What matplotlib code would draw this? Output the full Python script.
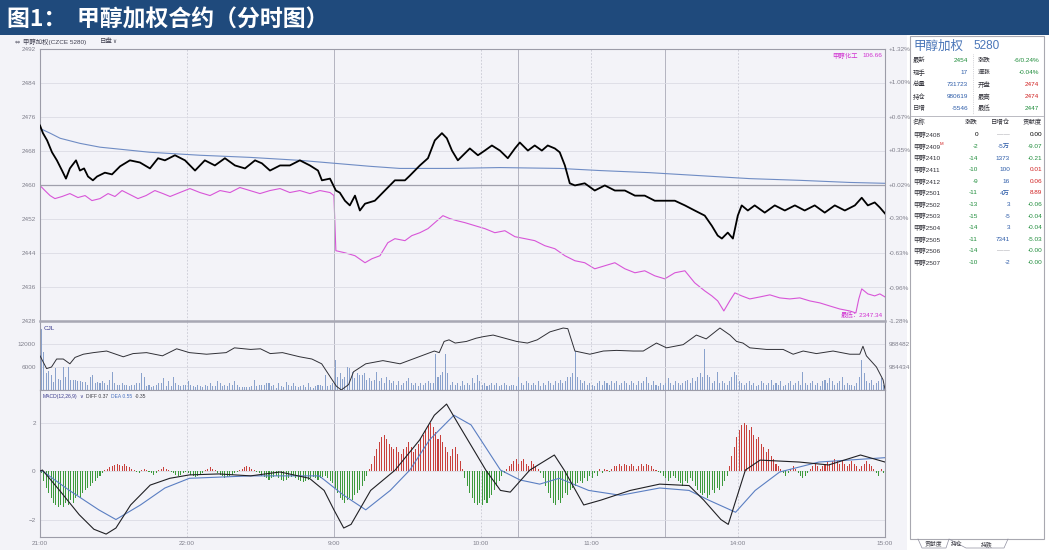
import matplotlib.pyplot as plt
import numpy as np

plt.rcParams['font.family'] = ['Liberation Sans', 'Noto Sans CJK SC', 'DejaVu Sans']

W, H = 1049, 552
BG = '#F3F3F8'
GRID = '#DCDCE4'
AXC = '#9C9CA8'
TXT = '#80808C'
GREEN = '#1E8C3A'
RED = '#D02020'
BLUE = '#2C5BA8'

# time axis: trading minutes since 21:00
tick_min = [0, 60, 120, 180, 225, 285, 345]
tick_lab = ['21:00', '22:00', '9:00', '10:00', '11:00', '14:00', '15:00']
dash_min = [60, 180, 225, 285]
solid_min = [120, 195, 255]

price_ticks = [2492, 2484, 2476, 2468, 2460, 2452, 2444, 2436, 2428]
pct_ticks = [1.32, 1.00, 0.67, 0.35, 0.02, -0.30, -0.63, -0.96, -1.28]
pct_labels = ['+1.32%', '+1.00%', '+0.67%', '+0.35%', '+0.02%', '-0.30%', '-0.63%', '-0.96%', '-1.28%']

price_t = [0, 1.2, 2.9, 4.9, 6.9, 9.0, 10.6, 12.2, 13.1, 14.7, 16.3, 18.0, 19.6, 21.6, 23.3, 26.5, 29.4, 32.7,
           36.7, 40.8, 44.9, 48.2, 51.0, 55.1, 59.2, 63.3, 67.3, 71.4, 75.5, 79.6, 83.7, 87.8, 90.6, 93.9, 98.0,
           102.0, 106.1, 110.2, 113.5, 115.1, 118.4, 120.8, 122.4, 124.5, 126.5, 128.6, 130.6, 132.7, 136.7,
           140.8, 144.9, 149.0, 151.0, 155.1, 158.4, 161.2, 164.1, 166.1, 168.2, 170.6, 172.7, 175.5, 178.8,
           181.6, 184.5, 187.8, 191.0, 193.9, 195.9, 199.2, 202.0, 204.9, 207.3, 210.2, 212.2, 214.3, 216.3,
           218.4, 222.4, 226.5, 230.6, 234.7, 238.8, 242.9, 246.9, 251.0, 255.1, 259.2, 263.3, 267.3, 271.4,
           274.3, 276.7, 278.4, 280.8, 282.9, 284.9, 286.5, 289.0, 291.8, 295.9, 300.0, 304.1, 308.2, 312.2,
           316.3, 320.4, 324.5, 328.6, 332.7, 335.5, 338.0, 340.8, 342.9, 345.0]
price_v = [2474.0, 2472.2, 2470.5, 2467.7, 2465.8, 2463.4, 2461.5, 2463.9, 2464.6, 2465.8, 2463.4, 2463.9,
           2462.0, 2461.1, 2462.0, 2462.9, 2462.5, 2464.4, 2465.8, 2465.3, 2463.9, 2466.3, 2465.8, 2467.0,
           2465.8, 2463.4, 2465.8, 2464.6, 2466.3, 2464.6, 2463.9, 2465.8, 2465.1, 2463.4, 2464.6, 2464.6,
           2465.8, 2464.6, 2463.4, 2461.1, 2461.5, 2458.7, 2458.2, 2456.3, 2455.2, 2457.5, 2454.0, 2455.6,
           2456.3, 2458.7, 2461.1, 2461.1, 2462.2, 2464.6, 2466.3, 2470.5, 2472.2, 2471.0, 2468.1, 2465.8,
           2467.0, 2468.6, 2467.0, 2468.1, 2469.3, 2468.1, 2466.3, 2468.6, 2470.0, 2468.1, 2469.3, 2468.1,
           2469.3, 2468.6, 2467.7, 2464.6, 2460.4, 2459.9, 2460.4, 2458.7, 2459.9, 2458.7, 2458.7, 2457.5,
           2457.5, 2456.3, 2456.3, 2456.3, 2455.2, 2454.0, 2452.8, 2450.4, 2448.1, 2447.4, 2448.8, 2447.4,
           2452.8, 2455.2, 2454.0, 2455.2, 2453.5, 2455.2, 2454.0, 2455.2, 2454.0, 2455.2, 2453.5, 2455.2,
           2454.0, 2455.2, 2457.0, 2455.2, 2455.9, 2454.7, 2453.3]

avg_t = [0, 4.1, 8.2, 16.3, 24.5, 44.9, 65.3, 85.7, 106.1, 120.4, 134.7, 146.9, 167.3, 187.8, 212.2, 228.6,
         249.0, 269.4, 289.8, 310.2, 330.6, 345.0]
avg_v = [2473.3, 2472.2, 2471.0, 2469.8, 2468.9, 2467.7, 2467.0, 2466.5, 2465.8, 2465.1, 2464.4, 2463.9,
         2463.9, 2464.1, 2463.9, 2463.4, 2462.9, 2462.2, 2461.5, 2461.1, 2460.6, 2460.4]

chem_t = [0, 2.0, 4.1, 6.1, 9.0, 12.2, 15.5, 18.4, 21.2, 24.5, 27.8, 30.6, 33.5, 36.7, 40.0, 43.3, 46.9, 50.2,
          53.1, 57.1, 61.2, 65.3, 69.4, 73.5, 77.6, 81.6, 85.7, 89.8, 93.9, 98.0, 102.0, 106.1, 110.2, 114.3,
          118.4, 120.0, 120.8, 124.5, 128.6, 132.7, 135.5, 138.8, 142.0, 144.9, 149.0, 151.8, 155.1, 158.4,
          161.2, 164.5, 167.3, 170.2, 173.5, 177.6, 181.6, 185.7, 189.8, 193.9, 198.0, 202.0, 206.1, 210.2,
          214.3, 218.4, 222.4, 226.5, 230.6, 234.7, 238.8, 242.9, 246.9, 251.0, 255.1, 259.2, 263.3, 267.3,
          271.4, 274.3, 276.7, 279.2, 281.6, 283.7, 286.5, 289.8, 293.9, 298.0, 302.0, 306.1, 310.2, 314.3,
          318.4, 322.4, 326.5, 330.6, 333.1, 334.3, 335.5, 338.0, 340.8, 342.9, 345.0]
chem_pct = [0.015, -0.033, -0.081, -0.110, -0.090, -0.062, -0.100, -0.081, -0.129, -0.110, -0.062, -0.090,
            -0.033, -0.071, -0.110, -0.081, -0.033, -0.062, -0.090, -0.052, -0.014, -0.052, -0.081, -0.033,
            -0.052, -0.004, -0.033, -0.062, -0.033, -0.014, -0.052, -0.033, -0.062, -0.033, -0.052, -0.081,
            -0.608, -0.628, -0.656, -0.723, -0.685, -0.656, -0.532, -0.493, -0.512, -0.464, -0.436, -0.397,
            -0.340, -0.273, -0.301, -0.321, -0.340, -0.369, -0.397, -0.436, -0.417, -0.474, -0.493, -0.512,
            -0.560, -0.589, -0.656, -0.704, -0.723, -0.781, -0.752, -0.723, -0.781, -0.819, -0.800, -0.848,
            -0.877, -0.819, -0.800, -0.915, -0.992, -1.040, -1.088, -1.184, -1.088, -1.011, -1.040, -1.069,
            -1.050, -1.030, -1.059, -1.069, -1.059, -1.088, -1.107, -1.136, -1.165, -1.184, -1.203, -1.069,
            -0.973, -1.021, -1.040, -1.021, -1.050]

vol = [15800, 10000, 4400, 5000, 4000, 2000, 5700, 2900, 2700, 5900,
       3500, 5900, 2500, 2700, 2500, 2300, 2300, 2200, 2000, 1400,
       3300, 4000, 1900, 2000, 1900, 2300, 1900, 1400, 2700, 4600,
       1900, 1400, 1400, 1900, 1300, 1400, 1000, 1200, 1400, 1900,
       1900, 4400, 3300, 1000, 1400, 850, 1000, 1200, 1900, 1900,
       3100, 1000, 2300, 1000, 3500, 1900, 1200, 1000, 1400, 1400,
       2300, 1200, 1000, 850, 1200, 1000, 850, 1200, 1000, 1900,
       1000, 1000, 2300, 1900, 1000, 1400, 1000, 1900, 1400, 2300,
       1400, 850, 700, 700, 850, 750, 1000, 2700, 1000, 1200,
       1400, 1400, 1900, 1900, 1000, 1200, 600, 1900, 1000, 850,
       2000, 1400, 1000, 1900, 1000, 850, 1000, 1400, 850, 1900,
       750, 600, 1000, 1400, 1400, 1000, 4000, 1000, 1400, 1900,
       7900, 3500, 4400, 2900, 3500, 6100, 5700, 4800, 3100, 4400,
       4000, 4000, 4400, 2700, 3100, 2300, 2700, 4600, 2300, 3100,
       1900, 3300, 2700, 1900, 2300, 1400, 2300, 1400, 1900, 2300,
       3100, 1900, 1400, 1900, 1000, 1900, 1400, 1900, 2300, 1900,
       1900, 9500, 3500, 4000, 4800, 9500, 4400, 1400, 2000, 1200,
       1900, 1000, 2300, 1200, 1900, 1400, 3100, 1900, 4000, 2300,
       1400, 1900, 1000, 1400, 1900, 1200, 1900, 1000, 1400, 1900,
       1400, 1000, 1200, 1400, 1000, 3500, 1900, 1400, 2300, 1900,
       1200, 1900, 1400, 2300, 1000, 1900, 1400, 2300, 1900, 1400,
       2300, 1900, 2700, 1900, 2300, 3300, 3500, 4400, 10300, 3500,
       2700, 1900, 2300, 1400, 1900, 1400, 1000, 1900, 2300, 1400,
       2300, 1900, 1400, 2300, 1900, 2300, 1400, 1900, 2300, 1900,
       1400, 2300, 1900, 1400, 2300, 1900, 2300, 3300, 1900, 1400,
       2300, 1400, 1000, 1900, 1400, 1900, 3100, 1900, 1400, 2300,
       1900, 1400, 1900, 2300, 2700, 1900, 3100, 2300, 3500, 4400,
       3300, 10700, 4000, 3500, 1900, 2300, 4800, 1900, 2300, 1900,
       1400, 2300, 3300, 4800, 4000, 2300, 1900, 1400, 1900, 2300,
       1400, 1900, 1000, 1400, 2300, 1900, 1400, 1900, 2700, 1400,
       1900, 1400, 2300, 1000, 1400, 1900, 2300, 1400, 1900, 2300,
       1400, 4600, 1900, 1400, 1900, 2300, 1400, 1900, 1000, 2300,
       2700, 1900, 3100, 2300, 1400, 1900, 2300, 3300, 1400, 1900,
       1400, 1400, 1000, 1900, 3500, 7800, 4400, 2300, 1900, 2700,
       1400, 1900, 2300, 3100, 1400]

oi_t = [0, 2.7, 4.7, 6.8, 9.5, 12.2, 14.3, 17.7, 21.8, 27.2, 34, 38, 43.5, 50, 55.8, 61, 68, 76, 79.4, 86, 90,
        94, 99, 106, 111, 115, 118, 121, 123, 126, 128, 131, 133, 140, 147, 154, 161, 163, 165, 167, 169.5,
        174.1, 178, 181, 185, 194.6, 199, 203, 208.2, 213.6, 215.5, 218.4, 224.5, 230, 235.4, 242.2, 246.3,
        251.7, 255.8, 262.6, 268, 272, 277.6, 281.7, 284.4, 287, 289.8, 296.6, 303.4, 307.5, 311.6, 317,
        323.8, 330.6, 334.7, 336, 337.4, 341.5, 344.2, 345]
oi_v = [986402, 984153, 984434, 985840, 985840, 984996, 986121, 986683, 986964, 987245, 986233, 986795,
        986964, 986402, 987639, 986964, 986683, 986964, 987807, 987526, 987639, 986795, 986964, 986233,
        985840, 984996, 983029, 981061, 980387, 981342, 983591, 984434, 984996, 985558, 984996, 986121,
        987245, 986964, 988932, 989213, 988650, 988932, 989494, 989775, 990056, 988932, 988650, 989213,
        990618, 991293, 991180, 987245, 986683, 987245, 987357, 987245, 987245, 988650, 987807, 988369,
        990056, 989381, 991293, 990056, 988932, 988650, 987807, 987526, 987526, 986683, 987245, 986795,
        987245, 986683, 986683, 988088, 986402, 984434, 982186, 980499]

hist = [-0.1, -0.4, -0.7, -0.9, -1.1, -1.3, -1.4, -1.5, -1.4, -1.5, -1.3, -1.4, -1.2, -1.3, -1.1, -1.0, -1.1,
        -0.9, -0.8, -0.7, -0.6, -0.5, -0.4, -0.3, -0.2,
        -0.1, 0.05, 0.1, 0.15, 0.2, 0.25, 0.3, 0.25, 0.2, 0.3, 0.2, 0.15, 0.1, 0.05, -0.05, -0.1, 0.05, 0.1,
        0.05, -0.05, -0.1, -0.15, -0.1, 0.05, 0.1, 0.15, 0.1, 0.05, -0.05, -0.1, -0.15, -0.2, -0.15, -0.1, -0.05,
        -0.1, -0.15, -0.2, -0.25, -0.2, -0.15, -0.1, 0.05, 0.1, 0.15, 0.1, 0.05, -0.1, -0.15, -0.2, -0.3,
        -0.25, -0.2, -0.15, -0.1, -0.05, 0.05, 0.1, 0.15, 0.2, 0.15, 0.1, 0.05, -0.05, -0.1, -0.2, -0.25,
        -0.3, -0.35, -0.3, -0.25, -0.2, -0.3, -0.35, -0.4, -0.35, -0.3, -0.25, -0.2, -0.3, -0.35, -0.4, -0.45,
        -0.4, -0.35, -0.3, -0.25, -0.3, -0.35, -0.3, -0.25, -0.2, -0.3, -0.4, -0.5,
        -0.7, -0.9, -1.1, -1.2, -1.3, -1.2, -1.1, -1.2, -1.0, -0.9, -0.8, -0.6, -0.4, -0.2, 0.1,
        0.3, 0.6, 0.9, 1.2, 1.4, 1.5, 1.3, 1.1, 1.0, 0.9, 1.0, 0.8, 0.7, 0.9, 1.0, 1.2, 1.0, 0.8, 0.9, 1.1,
        1.3, 1.5, 1.7, 1.9, 2.0, 1.8, 1.6, 1.3, 1.5, 1.2,
        1.0, 0.8, 0.6, 0.9, 1.0, 0.7, 0.4, 0.1, -0.3, -0.6, -0.9, -1.1, -1.3, -1.4, -1.3, -1.4, -1.2, -1.3,
        -1.1, -1.0, -0.8, -0.6, -0.4, -0.2, -0.1,
        0.1, 0.2, 0.3, 0.4, 0.5, 0.3, 0.4, 0.5, 0.3, 0.2, 0.4, 0.3, 0.2, 0.1, -0.1,
        -0.3, -0.6, -0.9, -1.1, -1.3, -1.4, -1.2, -1.3, -1.1, -0.9, -1.0, -0.8, -0.7, -0.6, -0.5,
        -0.4, -0.5, -0.3, -0.4, -0.2, -0.3, -0.1, -0.2, 0.1, -0.1, 0.1, 0.05, -0.05, 0.1, 0.2,
        0.2, 0.3, 0.2, 0.3, 0.25, 0.2, 0.3, 0.2, 0.1, 0.2, 0.3, 0.2, 0.3, 0.25, 0.2, 0.1, 0.05, -0.05, -0.1, -0.2,
        -0.3, -0.4, -0.3, -0.2, -0.3, -0.4, -0.5, -0.6, -0.4, -0.5, -0.3, -0.4, -0.6, -0.8, -0.9,
        -1.0, -0.9, -1.1, -1.0, -0.8, -0.9, -0.7, -0.8, -0.6, -0.4, -0.2, 0.2, 0.6,
        1.0, 1.4, 1.7, 1.9, 2.0, 1.9, 1.7, 1.8, 1.5, 1.3, 1.4, 1.1, 1.0, 0.8, 0.9, 0.6, 0.5,
        0.3, 0.2, 0.1, -0.1, -0.2, -0.1, 0.1, 0.2, 0.1, -0.1, -0.2, -0.3, -0.2, -0.1, 0.1, 0.2, 0.3, 0.2, 0.1, 0.2,
        0.3, 0.4, 0.3, 0.4, 0.5, 0.4, 0.3, 0.4, 0.3, 0.2, 0.3, 0.4, 0.3, 0.2, 0.1, 0.2, 0.3, 0.4, 0.3, 0.2,
        0.1, -0.1, -0.2, 0.1, -0.1]

diff_t = [0, 1, 8, 16, 22, 27, 31, 37, 45, 53, 61, 73, 86, 98, 110, 116, 120, 124, 127, 135, 145, 155, 161,
          166, 171, 182, 188, 192, 200, 210, 214, 222, 229, 241, 253, 265, 271, 278, 281, 288, 294, 310, 322,
          335, 345]
diff_v = [0.0, 0.04, -0.8, -1.8, -2.4, -2.6, -2.35, -1.4, -0.58, -0.3, -0.16, -0.12, -0.2, -0.04, -0.3, -0.8,
          -1.6, -2.35, -2.2, -0.8, 0.04, 1.28, 2.3, 2.76, 1.9, 0.04, -0.8, -0.87, 0.04, 0.66, 0.04, -1.4, -1.2,
          -0.8, -0.54, -0.6, -1.2, -2.0, -2.2, 0.04, 0.45, 0.37, 0.25, 0.66, 0.37]
dea_t = [0, 1, 12, 24, 31, 41, 51, 61, 86, 114, 124, 133, 143, 151, 159, 169, 176, 188, 196, 204, 212, 224,
         237, 253, 265, 273, 284, 292, 302, 318, 345]
dea_v = [0.0, 0.0, -0.8, -1.6, -2.0, -1.4, -0.7, -0.3, -0.2, -0.2, -1.0, -1.6, -0.8, 0.04, 1.28, 2.3, 1.9,
         0.04, -0.37, -0.54, -0.3, -0.8, -1.0, -0.7, -0.8, -1.2, -1.7, -0.8, -0.04, 0.37, 0.55]

# ---------------------------------------------------------------
fig = plt.figure(figsize=(W / 100, H / 100), dpi=100, facecolor='white')


def fx(x):
    return x / W


def fy(y):
    return 1 - y / H


def T(x, y, s, **kw):
    kw.setdefault('fontsize', 4.6)
    kw.setdefault('va', 'center')
    fig.text(fx(x), fy(y), s, **kw)


# backgrounds
fig.patches.append(plt.Rectangle((0, fy(550)), fx(907), fy(35) - fy(550), transform=fig.transFigure,
                                 facecolor=BG, edgecolor='none', zorder=-10))
fig.patches.append(plt.Rectangle((0, fy(35)), 1, 35 / H, transform=fig.transFigure,
                                 facecolor='#1F4A7C', edgecolor='none', zorder=-10))
fig.patches.append(plt.Rectangle((fx(910), fy(539)), fx(1044 - 910), (539 - 36) / H, transform=fig.transFigure,
                                 facecolor='white', edgecolor='#A8A8B0', lw=0.8, zorder=-9))
fig.text(fx(7), fy(20), '图1：  甲醇加权合约（分时图）', color='white', fontsize=16.5,
         fontweight='bold', family=['Noto Sans CJK SC'], va='center')

T(15, 41.5, '⇔', color='#505060', fontsize=4.5, family=['DejaVu Sans'])
T(23, 41.5, '甲醇加权(CZCE 5280)', color='#404050')
T(100, 41.5, '日盘', color='#404050')
T(112, 41.5, '∨', color='#404050', fontsize=4, family=['DejaVu Sans'])

L, R = 40, 885
ax = fig.add_axes([fx(L), fy(321), fx(R - L), (321 - 49) / H])
axv = fig.add_axes([fx(L), fy(390), fx(R - L), (390 - 321) / H])
axm = fig.add_axes([fx(L), fy(537), fx(R - L), (537 - 390) / H])

for a in (ax, axv, axm):
    a.set_facecolor(BG)
    a.set_xlim(0, 345)
    a.set_xticks(tick_min)
    a.tick_params(length=0, labelsize=4.6, labelcolor=TXT, pad=3)
    for s in a.spines.values():
        s.set_color(AXC)
        s.set_linewidth(0.8)
    for m in dash_min:
        a.axvline(m, color='#C8C8D2', lw=0.6, ls=(0, (2, 2)), zorder=1)
    for m in solid_min:
        a.axvline(m, color='#B4B4C0', lw=0.7, zorder=1)
ax.set_xticklabels([])
axv.set_xticklabels([])
axm.set_xticklabels(tick_lab)
ax.spines['bottom'].set_linewidth(1.8)
ax.spines['bottom'].set_color('#A8A8B4')

# main price panel
ax.set_ylim(2428, 2492)
ax.set_yticks(price_ticks)
for p in price_ticks[1:-1]:
    ax.axhline(p, color=GRID, lw=0.6, zorder=1)
ax.axhline(2460, color='#A0A0AC', lw=0.9, zorder=1)
axp = ax.twinx()
axp.set_ylim(-1.28, 1.32)
axp.set_yticks(pct_ticks)
axp.set_yticklabels(pct_labels)
axp.tick_params(length=0, labelsize=4.6, labelcolor=TXT, pad=3)
axp.set_facecolor(BG)
for s in axp.spines.values():
    s.set_visible(False)
ax.set_zorder(3)
axp.set_zorder(2)
ax.patch.set_visible(False)
axp.plot(chem_t, chem_pct, color='#D855D8', lw=0.8)
ax.plot(avg_t, avg_v, color='#6F8CC4', lw=0.8, zorder=4)
ax.plot(price_t, price_v, color='black', lw=1.3, zorder=5)
ax.text(0.937, 0.985, '甲醇化工', transform=ax.transAxes, color='#D030D0', fontsize=4.6, va='top', ha='left')
ax.text(0.997, 0.985, '106.66', transform=ax.transAxes, color='#D030D0', fontsize=4.6, va='top', ha='right')
ax.text(0.997, 0.012, '最低：2347.34', transform=ax.transAxes, color='#D030D0', fontsize=4.6,
        va='bottom', ha='right')

# volume / open interest panel
axv.set_ylim(0, 18000)
axv.set_yticks([12000, 6000])
for v in (12000, 6000):
    axv.axhline(v, color=GRID, lw=0.6, zorder=1)
axv.bar(np.arange(len(vol)) + 0.5, vol, width=0.42, color='#8AA2CC', zorder=2)
axo = axv.twinx()
axo.set_ylim(980386, 992530)
axo.set_yticks([988482, 984434])
axo.set_yticklabels(['988482', '984434'])
axo.tick_params(length=0, labelsize=4.6, labelcolor=TXT, pad=3)
for s in axo.spines.values():
    s.set_visible(False)
axo.plot(oi_t, oi_v, color='#303036', lw=0.7)
axv.text(0.004, 0.93, 'CJL', transform=axv.transAxes, color='#3A3A8C', fontsize=4.6, va='top')

# MACD panel
axm.set_ylim(-2.72, 3.34)
axm.set_yticks([2, 0, -2])
for v in (2, 0, -2):
    axm.axhline(v, color=GRID, lw=0.6, zorder=1)
hx = np.arange(len(hist)) + 0.5
hv = np.array(hist)
axm.bar(hx, hv, width=0.42, color=np.where(hv >= 0, '#C8403C', '#3C9A3C'), zorder=2)
axm.plot(dea_t, dea_v, color='#5A7EC2', lw=0.8, zorder=3)
axm.plot(diff_t, diff_v, color='#202024', lw=0.8, zorder=4)


def mlabel(x, s, c, **kw):
    axm.text((x - L) / (R - L), 0.955, s, transform=axm.transAxes, color=c, fontsize=3.6, va='center', **kw)


mlabel(43, 'MACD(12,26,9)', '#3A3A8C')
mlabel(79, '∨', '#3A3A8C', family=['DejaVu Sans'])
mlabel(86, 'DIFF 0.37', '#404048')
mlabel(111, 'DEA 0.55', '#4A72C0')
mlabel(135, '-0.35', '#404048')

# right quote panel
T(913, 46, '甲醇加权', color='#4A76B8', fontsize=9, family=['Noto Sans CJK SC'])
T(973, 46, '5280', color='#4A76B8', fontsize=8.5)

stat_lab_l = ['最新', '现手', '总量', '持仓', '日增']
stat_val_l = ['2454', '17', '731723', '980619', '-5546']
stat_col_l = [GREEN, BLUE, BLUE, BLUE, BLUE]
stat_lab_r = ['涨跌', '速涨', '开盘', '最高', '最低']
stat_val_r = ['-6/0.24%', '-0.04%', '2474', '2474', '2447']
stat_col_r = [GREEN, GREEN, RED, RED, GREEN]
stat_y = [60, 72.5, 84.5, 96.5, 108]
for i, y in enumerate(stat_y):
    T(913, y, stat_lab_l[i], color='#303038')
    T(968, y, stat_val_l[i], color=stat_col_l[i], ha='right')
    T(978, y, stat_lab_r[i], color='#303038')
    T(1039, y, stat_val_r[i], color=stat_col_r[i], ha='right')
fig.add_artist(plt.Line2D([fx(973), fx(973)], [fy(54), fy(114)], color='#B0B0B8', lw=0.5, ls=':'))
fig.add_artist(plt.Line2D([fx(911), fx(1043)], [fy(116), fy(116)], color='#B0B0B8', lw=0.6))

tbl_head = ['名称', '涨跌', '日增仓', '贡献度']
names = ['甲醇2408', '甲醇2409', '甲醇2410', '甲醇2411', '甲醇2412', '甲醇2501', '甲醇2502', '甲醇2503',
         '甲醇2504', '甲醇2505', '甲醇2506', '甲醇2507']
chg = ['0', '-2', '-14', '-10', '-9', '-11', '-13', '-15', '-14', '-11', '-14', '-10']
oi_chg = ['——', '-5万', '1373', '100', '16', '4万', '3', '-5', '3', '7341', '——', '-2']
contrib = ['0.00', '-9.07', '-0.21', '0.01', '0.06', '8.89', '-0.06', '-0.04', '-0.04', '-5.03', '-0.00', '-0.00']

T(913, 122, tbl_head[0], color='#303038')
T(978, 122, tbl_head[1], color='#303038', ha='right')
T(1010, 122, tbl_head[2], color='#303038', ha='right')
T(1042, 122, tbl_head[3], color='#303038', ha='right')
for i in range(len(names)):
    y = 135 + i * 11.6
    T(913, y, names[i], color='#303038')
    if i == 1:
        T(940, y - 2.5, 'M', color=RED, fontsize=3.2)
    c1 = 'black' if chg[i] == '0' else GREEN
    T(978, y, chg[i], color=c1, ha='right')
    c2 = '#909098' if oi_chg[i] == '——' else BLUE
    T(1010, y, oi_chg[i], color=c2, ha='right')
    v = float(contrib[i])
    c3 = 'black' if contrib[i] == '0.00' else (RED if v > 0 else GREEN)
    T(1042, y, contrib[i], color=c3, ha='right')

tabs = ['贡献度', '持仓', '持跌']
tab_x = [933, 957, 987]
for s, x in zip(tabs, tab_x):
    T(x, 544, s, color='#404048', fontsize=4.2, ha='center')
fig.add_artist(plt.Line2D([fx(918), fx(922), fx(946), fx(949), fx(966), fx(969), fx(1004), fx(1008)],
                          [fy(539), fy(548), fy(548), fy(539), fy(548), fy(548), fy(548), fy(539)],
                          color='#9090A0', lw=0.5))

fig.savefig('out.png', dpi=100, facecolor='white')
